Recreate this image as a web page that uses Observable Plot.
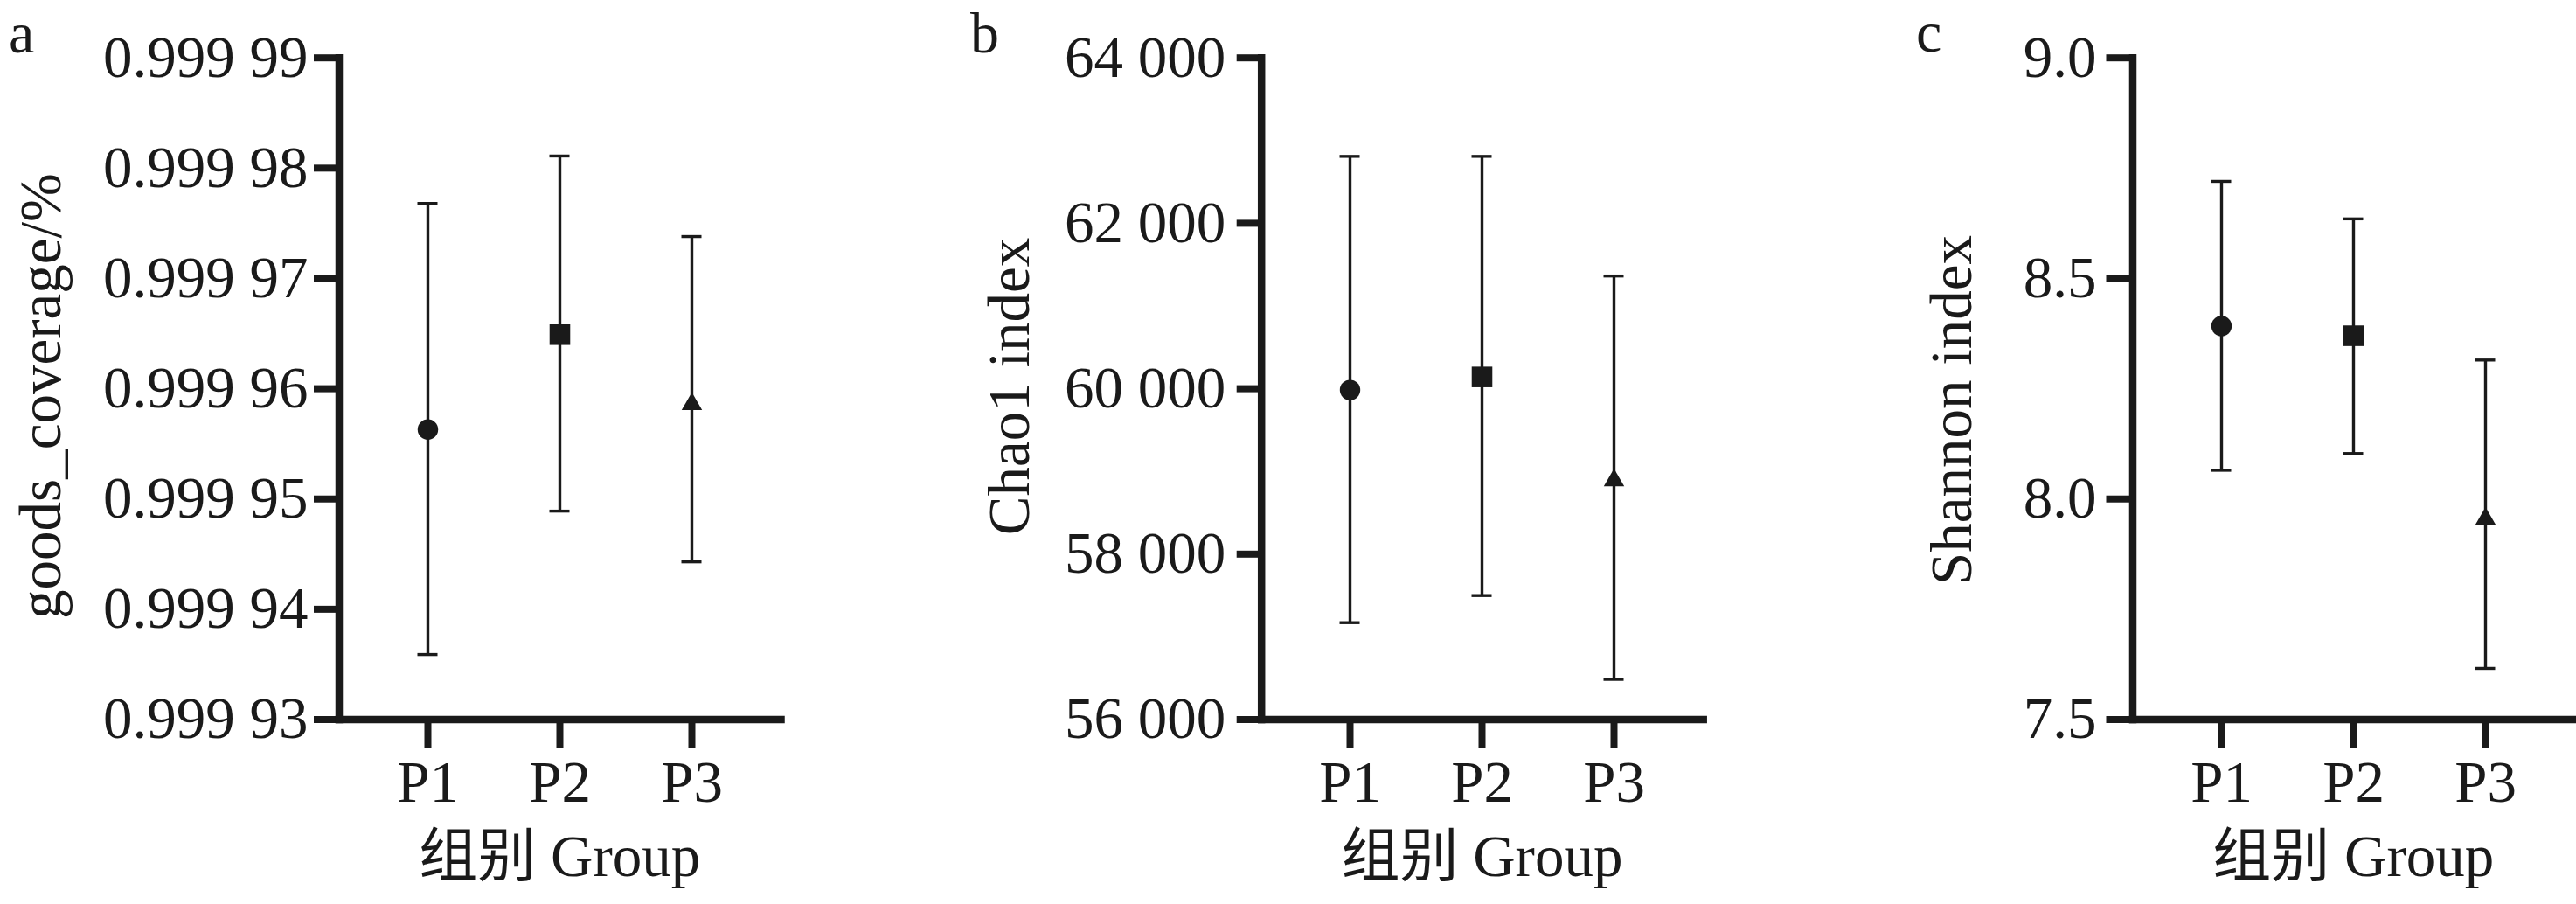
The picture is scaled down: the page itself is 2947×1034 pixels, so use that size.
<!DOCTYPE html>
<html>
<head>
<meta charset="utf-8">
<script src="https://cdn.jsdelivr.net/npm/d3@7"></script>
<script src="https://cdn.jsdelivr.net/npm/@observablehq/plot@0.6"></script>
<style>
  html, body { margin: 0; padding: 0; background: #fff; }
  #chart { position: relative; width: 2947px; height: 1034px; overflow: hidden; background: #fff; }
  #chart svg { position: absolute; top: 0; }
</style>
</head>
<body>
<div id="chart"></div>
<script>
// ---------- data ----------
const groups = ["P1", "P2", "P3"];

const coverageMean = [0.9999563, 0.9999649, 0.9999586];
const coverageLow  = [0.9999359, 0.9999489, 0.9999443];
const coverageHigh = [0.9999768, 0.9999811, 0.9999738];
const coverageTicks = [0.99993, 0.99994, 0.99995, 0.99996, 0.99997, 0.99998, 0.99999];

const chaoMean = [59984, 60142, 58890];
const chaoLow  = [57171, 57499, 56486];
const chaoHigh = [62809, 62809, 61363];
const chaoTicks = [56000, 58000, 60000, 62000, 64000];

const shannonMean = [8.392, 8.370, 7.955];
const shannonLow  = [8.065, 8.103, 7.616];
const shannonHigh = [8.720, 8.635, 8.315];
const shannonTicks = [7.5, 8.0, 8.5, 9.0];

const panelLetters = ["a", "b", "c"];
const yTitles = ["goods_coverage/%", "Chao1 index", "Shannon index"];
const xTitle = "组别 Group";

// ---------- layout / style ----------
const INK = "#1a1a1a";
const FONT = "'Liberation Serif', 'Times New Roman', 'Noto Sans CJK SC', serif";
const FS = 67;
const H = 1034;
const TOP = 65.7, BOTTOM = 822.5, AXISW = 505.5;

function fmtCoverage(d) { const s = d.toFixed(5); return s.slice(0, 5) + " " + s.slice(5); }
function fmtChao(d) { return d3.format(",")(d).replace(/,/g, " "); }
function fmtShannon(d) { return d.toFixed(1); }

const panels = [
  {left: 0, width: 1000, axisX: 387.5, mean: coverageMean, lo: coverageLow, hi: coverageHigh,
   ticks: coverageTicks, domain: [0.99993, 0.99999], fmt: fmtCoverage, tickSize: 28.5, tickPadding: 7,
   letterX: 10, letterY: 60, titleX: 69, titleY: 453},
  {left: 1000, width: 1000, axisX: 1442.7, mean: chaoMean, lo: chaoLow, hi: chaoHigh,
   ticks: chaoTicks, domain: [56000, 64000], fmt: fmtChao, tickSize: 28, tickPadding: 13,
   letterX: 1110, letterY: 60, titleX: 1176.5, titleY: 442},
  {left: 2000, width: 947, axisX: 2439.5, mean: shannonMean, lo: shannonLow, hi: shannonHigh,
   ticks: shannonTicks, domain: [7.5, 9.0], fmt: fmtShannon, tickSize: 30, tickPadding: 11.5,
   letterX: 2192, letterY: 59, titleX: 2255, titleY: 469}
];

const container = document.getElementById("chart");

panels.forEach((p, k) => {
  const data = groups.map((g, i) => ({group: g, mean: p.mean[i], lo: p.lo[i], hi: p.hi[i]}));
  const marginLeft = p.axisX - p.left;
  const marginRight = p.width - marginLeft - AXISW;
  const capOpts = {x1: "group", x2: "group", insetLeft: -11.5, insetRight: -11.5, stroke: INK, strokeWidth: 3.4};
  const svg = Plot.plot({
    width: p.width,
    height: H,
    marginLeft, marginRight,
    marginTop: TOP,
    marginBottom: H - BOTTOM,
    style: {fontFamily: FONT, fontSize: FS + "px", color: INK, background: "transparent", overflow: "visible"},
    x: {type: "point", domain: groups, padding: 0.667, label: null},
    y: {domain: p.domain, label: null},
    marks: [
      Plot.axisY({ticks: p.ticks, tickFormat: p.fmt, tickSize: p.tickSize, tickPadding: p.tickPadding,
                  strokeWidth: 8, label: null, fontSize: FS, fill: INK}),
      Plot.axisX({tickSize: 33, tickPadding: 13, strokeWidth: 8, label: null, fontSize: FS, fill: INK}),
      Plot.frame({anchor: "left", stroke: INK, strokeWidth: 8.5, strokeLinecap: "square"}),
      Plot.frame({anchor: "bottom", stroke: INK, strokeWidth: 8.5, strokeLinecap: "square"}),
      Plot.ruleX(data, {x: "group", y1: "lo", y2: "hi", stroke: INK, strokeWidth: 3.4}),
      Plot.ruleY(data, {...capOpts, y: "hi"}),
      Plot.ruleY(data, {...capOpts, y: "lo"}),
      Plot.dot(data.filter(d => d.group === groups[0]), {x: "group", y: "mean", symbol: "circle", r: 11.7, fill: INK, stroke: "none"}),
      Plot.dot(data.filter(d => d.group === groups[1]), {x: "group", y: "mean", symbol: "square", r: 13.3, fill: INK, stroke: "none"}),
      Plot.dot(data.filter(d => d.group === groups[2]), {x: "group", y: "mean", symbol: "triangle", r: 8.7, fill: INK, stroke: "none"})
    ]
  });
  svg.style.left = p.left + "px";
  const s = d3.select(svg);
  // panel letter
  s.append("text")
    .attr("x", p.letterX - p.left).attr("y", p.letterY)
    .attr("text-anchor", "start")
    .attr("font-family", FONT).attr("font-size", 66).attr("fill", INK)
    .text(panelLetters[k]);
  // y title
  s.append("text")
    .attr("transform", `translate(${p.titleX - p.left},${p.titleY}) rotate(-90)`)
    .attr("text-anchor", "middle")
    .attr("font-family", FONT).attr("font-size", FS).attr("fill", INK)
    .text(yTitles[k]);
  // x title
  s.append("text")
    .attr("x", marginLeft + AXISW / 2).attr("y", 1001.7)
    .attr("text-anchor", "middle")
    .attr("font-family", FONT).attr("font-size", FS).attr("fill", INK)
    .text(xTitle);
  container.appendChild(svg);
});
</script>
</body>
</html>
